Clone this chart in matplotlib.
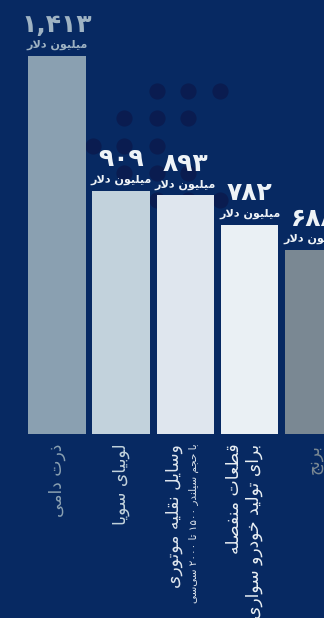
import re
import matplotlib
matplotlib.use("Agg")
import matplotlib.pyplot as plt

# ---------------- data ----------------
categories = ["ذرت دامی", "لوبیای سویا", "وسایل نقلیه موتوری",
              "قطعات منفصله\nبرای تولید خودرو سواری", "برنج"]
sub_labels = ["", "", "با حجم سیلندر ۱۵۰۰ تا ۲۰۰۰ سی\u200cسی", "", ""]
values = [1413, 909, 893, 782, 688]
unit = "میلیون دلار"

bar_colors = ["#8aa0b1", "#c2d2dc", "#dfe6ee", "#eaf0f4", "#7a8893"]
value_colors = ["#9fb3c3", "#eef3f7", "#eef3f7", "#eef3f7", "#eef3f7"]
bg = "#072962"
dot_color = "#0a1c50"

# decorative dot pattern (pixel positions on the canvas)
dots_x = [157, 188, 220, 124, 157, 188, 93, 124, 157, 124, 157, 188, 157, 188, 220]
dots_y = [91, 91, 91, 118, 118, 118, 146, 146, 146, 173, 173, 173, 200, 200, 200]

# ---------------- minimal arabic/persian shaping ----------------
FORMS = {
    'ا': ('\uFE8D', '\uFE8E', None, None),
    'ب': ('\uFE8F', '\uFE90', '\uFE91', '\uFE92'),
    'ت': ('\uFE95', '\uFE96', '\uFE97', '\uFE98'),
    'ج': ('\uFE9D', '\uFE9E', '\uFE9F', '\uFEA0'),
    'ح': ('\uFEA1', '\uFEA2', '\uFEA3', '\uFEA4'),
    'خ': ('\uFEA5', '\uFEA6', '\uFEA7', '\uFEA8'),
    'د': ('\uFEA9', '\uFEAA', None, None),
    'ذ': ('\uFEAB', '\uFEAC', None, None),
    'ر': ('\uFEAD', '\uFEAE', None, None),
    'س': ('\uFEB1', '\uFEB2', '\uFEB3', '\uFEB4'),
    'ص': ('\uFEB9', '\uFEBA', '\uFEBB', '\uFEBC'),
    'ط': ('\uFEC1', '\uFEC2', '\uFEC3', '\uFEC4'),
    'ع': ('\uFEC9', '\uFECA', '\uFECB', '\uFECC'),
    'ف': ('\uFED1', '\uFED2', '\uFED3', '\uFED4'),
    'ق': ('\uFED5', '\uFED6', '\uFED7', '\uFED8'),
    'ل': ('\uFEDD', '\uFEDE', '\uFEDF', '\uFEE0'),
    'م': ('\uFEE1', '\uFEE2', '\uFEE3', '\uFEE4'),
    'ن': ('\uFEE5', '\uFEE6', '\uFEE7', '\uFEE8'),
    'ه': ('\uFEE9', '\uFEEA', '\uFEEB', '\uFEEC'),
    'و': ('\uFEED', '\uFEEE', None, None),
    'ی': ('\uFEEF', '\uFEF0', '\uFEF3', '\uFEF4'),
}


def joins_next(c):
    return c in FORMS and FORMS[c][2] is not None


def shape_line(text):
    out = []
    i, n = 0, len(text)
    while i < n:
        c = text[i]
        if c not in FORMS:
            if c != '\u200c':
                out.append(c)
            i += 1
            continue
        prev = text[i - 1] if i > 0 else ''
        conn_prev = joins_next(prev)
        if c == 'ل' and i + 1 < n and text[i + 1] == 'ا':
            out.append('\uFEFC' if conn_prev else '\uFEFB')
            i += 2
            continue
        nxt = text[i + 1] if i + 1 < n else ''
        conn_next = joins_next(c) and nxt in FORMS
        iso, fin, ini, med = FORMS[c]
        if conn_prev and conn_next:
            out.append(med)
        elif conn_prev:
            out.append(fin)
        elif conn_next:
            out.append(ini)
        else:
            out.append(iso)
        i += 1
    s = ''.join(out)[::-1]
    # numbers stay left to right
    return re.sub(r'[0-9\u06F0-\u06F9,]+', lambda m: m.group(0)[::-1], s)


def fa(text):
    return '\n'.join(shape_line(line) for line in text.split('\n'))


def fa_num(v):
    return f"{v:,}".translate(str.maketrans("0123456789", "۰۱۲۳۴۵۶۷۸۹"))


plt.rcParams['font.family'] = ['DejaVu Sans']

fig = plt.figure(figsize=(3.24, 6.18), dpi=100, facecolor=bg)

# background decoration
bg_ax = fig.add_axes([0, 0, 1, 1], zorder=0)
bg_ax.set_facecolor(bg)
bg_ax.set_xlim(0, 324)
bg_ax.set_ylim(618, 0)
bg_ax.axis('off')
bg_ax.scatter(dots_x, dots_y, s=135, color=dot_color, linewidths=0)

ax = fig.add_axes([0, 184 / 618, 1, 378 / 618], zorder=1)
ax.patch.set_alpha(0)
x = list(range(len(values)))
ax.bar(x, values, width=0.9, color=bar_colors)
ax.set_xlim(-57 / 64.2, (324 - 57) / 64.2)
ax.set_ylim(0, max(values))
ax.axis('off')

for xi, v, vc in zip(x, values, value_colors):
    ax.annotate(fa_num(v), (xi, v), xytext=(0, 14), textcoords='offset points',
                ha='center', va='bottom', fontsize=18, fontweight='bold',
                color=vc, annotation_clip=False)
    ax.annotate(fa(unit), (xi, v), xytext=(0, 4), textcoords='offset points',
                ha='center', va='bottom', fontsize=8, fontweight='bold',
                color=vc, annotation_clip=False)

for xi, lab, sub, c in zip(x, categories, sub_labels, bar_colors):
    dx = 0
    if sub:
        dx = -8
        ax.annotate(fa(sub), (xi, 0), xytext=(6, -7), textcoords='offset points',
                    ha='center', va='top', rotation=90, fontsize=7.5,
                    color=c, annotation_clip=False)
    if '\n' in lab:
        dx = -4
    ax.annotate(fa(lab), (xi, 0), xytext=(dx, -7), textcoords='offset points',
                ha='center', va='top', rotation=90, fontsize=12.3,
                color=c, multialignment='right', linespacing=1.15,
                annotation_clip=False)

fig.savefig("out.png", dpi=100, facecolor=bg)
